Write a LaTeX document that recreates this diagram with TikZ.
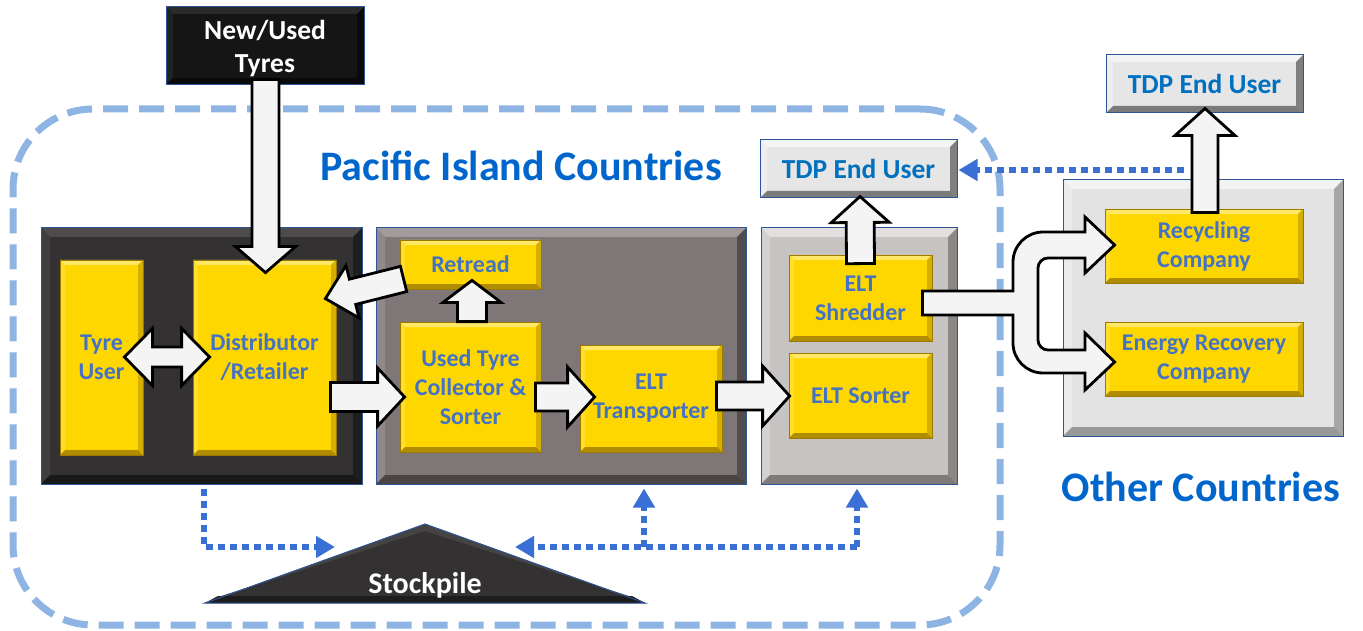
\documentclass[tikz,border=0pt]{standalone}
\usepackage{fontspec}
\setmainfont{Carlito}
\usetikzlibrary{calc,arrows.meta}
\definecolor{ylw}{HTML}{FFD700}
\definecolor{ytop}{HTML}{FFE866}
\definecolor{yleft}{HTML}{FFDE2E}
\definecolor{yright}{HTML}{D4AE00}
\definecolor{ybot}{HTML}{B08D00}
\definecolor{ygold}{HTML}{9C7A00}
\definecolor{ytext}{HTML}{4472C4}
\definecolor{navy}{HTML}{2F5597}
\definecolor{lpc}{HTML}{333131}
\definecolor{lpt}{HTML}{4D4B4B}
\definecolor{lpl}{HTML}{403E3E}
\definecolor{lpr}{HTML}{1F1E1E}
\definecolor{lpb}{HTML}{1A1919}
\definecolor{mpc}{HTML}{7F7777}
\definecolor{mpt}{HTML}{A39B9B}
\definecolor{mpl}{HTML}{918989}
\definecolor{mpr}{HTML}{524C4C}
\definecolor{mpb}{HTML}{4A4444}
\definecolor{rpc}{HTML}{C7C3C3}
\definecolor{rpt}{HTML}{E2DFDF}
\definecolor{rpl}{HTML}{D4D0D0}
\definecolor{rpr}{HTML}{8C8888}
\definecolor{rpb}{HTML}{7F7B7B}
\definecolor{opc}{HTML}{E3E3E3}
\definecolor{opt}{HTML}{F3F3F3}
\definecolor{opl}{HTML}{EBEBEB}
\definecolor{opr}{HTML}{A6A6A6}
\definecolor{opb}{HTML}{999999}
\definecolor{tdc}{HTML}{E6E6E6}
\definecolor{tdt}{HTML}{F4F4F4}
\definecolor{tdl}{HTML}{EEEEEE}
\definecolor{tdr}{HTML}{808080}
\definecolor{tdb}{HTML}{7A7A7A}
\definecolor{nuc}{HTML}{151515}
\definecolor{nut}{HTML}{2B2B2B}
\definecolor{nul}{HTML}{222222}
\definecolor{nur}{HTML}{0A0A0A}
\definecolor{tdptext}{HTML}{0070C0}
\definecolor{titlec}{HTML}{0066CC}
\definecolor{regc}{HTML}{8EB4E3}
\definecolor{dotc}{HTML}{3A70D6}
\definecolor{arrw}{HTML}{F4F4F4}
\definecolor{stkc}{HTML}{333131}
\definecolor{stkd}{HTML}{1E1D1D}
\definecolor{stkt}{HTML}{454343}

\newcommand\barrow[5]{%
  \coordinate (bac) at ($(#2)!#5!(#1)$);
  \draw[blockarr] ($(#1)!#3!90:(#2)$) -- ($(bac)!#3!90:(#2)$) -- ($(bac)!#4!90:(#2)$) -- (#2) -- ($(bac)!#4!-90:(#2)$) -- ($(bac)!#3!-90:(#2)$) -- ($(#1)!#3!-90:(#2)$) -- cycle;}
\newcommand\dbarrow[5]{%
  \coordinate (bca) at ($(#1)!#5!(#2)$);
  \coordinate (bcb) at ($(#2)!#5!(#1)$);
  \draw[blockarr] (#1) -- ($(bca)!#4!90:(#2)$) -- ($(bca)!#3!90:(#2)$) -- ($(bcb)!#3!-90:(#1)$) -- ($(bcb)!#4!-90:(#1)$) -- (#2) -- ($(bcb)!#4!90:(#1)$) -- ($(bcb)!#3!90:(#1)$) -- ($(bca)!#3!-90:(#2)$) -- ($(bca)!#4!-90:(#2)$) -- cycle;}

\tikzset{
 bevel/.style n args={5}{path picture={
   \fill[#1] (path picture bounding box.north west) -- (path picture bounding box.north east) -- ([shift={(-#5,-#5)}]path picture bounding box.north east) -- ([shift={(#5,-#5)}]path picture bounding box.north west) -- cycle;
   \fill[#2] (path picture bounding box.north west) -- ([shift={(#5,-#5)}]path picture bounding box.north west) -- ([shift={(#5,#5)}]path picture bounding box.south west) -- (path picture bounding box.south west) -- cycle;
   \fill[#3] (path picture bounding box.north east) -- ([shift={(-#5,-#5)}]path picture bounding box.north east) -- ([shift={(-#5,#5)}]path picture bounding box.south east) -- (path picture bounding box.south east) -- cycle;
   \fill[#4] (path picture bounding box.south west) -- ([shift={(#5,#5)}]path picture bounding box.south west) -- ([shift={(-#5,#5)}]path picture bounding box.south east) -- (path picture bounding box.south east) -- cycle;
 }},
 ybox/.style={draw=ygold, line width=0.8pt, fill=ylw, bevel={ytop}{yleft}{yright}{ybot}{5pt}, text=ytext, font=\bfseries\fontsize{24}{29}\selectfont, align=center, inner sep=0pt},
 panelbase/.style={draw=navy, line width=1pt, inner sep=0pt},
 lpanel/.style={panelbase, fill=lpc, bevel={lpt}{lpl}{lpr}{lpb}{9pt}},
 mpanel/.style={panelbase, fill=mpc, bevel={mpt}{mpl}{mpr}{mpb}{9pt}},
 rpanel/.style={panelbase, fill=rpc, bevel={rpt}{rpl}{rpr}{rpb}{9pt}},
 opanel/.style={panelbase, fill=opc, bevel={opt}{opl}{opr}{opb}{9pt}},
 tdpbox/.style={panelbase, fill=tdc, bevel={tdt}{tdl}{tdr}{tdb}{7pt}, text=tdptext, font=\bfseries\fontsize{27.5}{33}\selectfont},
 nubox/.style={panelbase, fill=nuc, bevel={nut}{nul}{nur}{nur}{7pt}},
 nutext/.style={text=white, align=center, inner sep=0pt, font=\bfseries\fontsize{27.5}{33}\selectfont},
 titletext/.style={text=titlec, font=\bfseries\fontsize{42}{50}\selectfont},
 blockarr/.style={fill=arrw, draw=black, line width=2.8pt, line join=miter},
 dotarr/.style={draw=dotc, line width=6pt, dash pattern=on 7pt off 5pt, -{Triangle[length=19pt,width=21pt]}},
 region/.style={draw=regc, line width=7pt, dash pattern=on 25pt off 11pt, rounded corners=80pt, inner sep=0pt},
}

\begin{document}
\begin{tikzpicture}[x=1pt,y=-1pt]
\useasboundingbox (0,0) rectangle (1363,631);

% region
\node[region, minimum width=987pt, minimum height=516pt] (reg) at (506.5,367) {};

% titles
\node[titletext] (pict) at (521,166) {Pacific Island Countries};
\node[titletext] (otht) at (1201,487) {Other Countries};

% panels
\node[nubox, minimum width=198pt, minimum height=78pt] (nu) at (265,46) {};
\node[nutext] (nul) at ([yshift=-3pt]nu.center) {New/Used\\Tyres};
\node[lpanel, minimum width=321pt, minimum height=256pt] (lp) at (201.5,356) {};
\node[mpanel, minimum width=370pt, minimum height=256pt] (mp) at (561,356) {};
\node[rpanel, minimum width=196pt, minimum height=256pt] (rp) at (859,356) {};
\node[opanel, minimum width=280pt, minimum height=256pt] (op) at (1203,308) {};
\node[tdpbox, minimum width=197pt, minimum height=58pt] (tdp1) at (858.5,169) {TDP End User};
\node[tdpbox, minimum width=197pt, minimum height=58pt] (tdp2) at (1204.5,84) {TDP End User};

% yellow boxes
\node[ybox, minimum width=83pt, minimum height=195pt] (tu) at (101.5,357.5) {Tyre\\User};
\node[ybox, minimum width=143pt, minimum height=195pt] (dist) at (264.5,357.5) {Distributor\\/Retailer};
\node[ybox, minimum width=141pt, minimum height=49pt] (ret) at (470.5,264.5) {Retread};
\node[ybox, minimum width=141pt, minimum height=130pt] (coll) at (470.5,387) {Used Tyre\\Collector \&\\Sorter};
\node[ybox, minimum width=142pt, minimum height=107pt] (trans) at (651,398.5) {ELT\\Transporter};
\node[ybox, minimum width=143pt, minimum height=86pt] (shred) at (860.5,298) {ELT\\Shredder};
\node[ybox, minimum width=143pt, minimum height=85pt] (sorter) at (860.5,395.5) {ELT Sorter};
\node[ybox, minimum width=198pt, minimum height=74pt] (recy) at (1204,246) {Recycling\\Company};
\node[ybox, minimum width=198pt, minimum height=74pt] (energy) at (1204,359) {Energy Recovery\\Company};

% stockpile
\fill[stkc] (205,603) -- (425,524) -- (645,603) -- cycle;
\fill[stkt] (425,524) -- (645,603) -- (632,597) -- (425,531) -- (218,597) -- (205,603) -- cycle;
\fill[stkd] (218,596) -- (632,596) -- (645,603) -- (205,603) -- cycle;
\draw[navy, line width=1pt, line join=miter] (205,603) -- (425,524) -- (645,603) -- cycle;
\node[text=white, font=\bfseries\fontsize{30}{36}\selectfont, anchor=base] (stock) at (425,593) {Stockpile};

% block arrows
\coordinate (a1s) at ([xshift=0.5pt,yshift=6pt]nu.south);
\coordinate (a1e) at ([xshift=1pt,yshift=-13pt]dist.north);
\barrow{a1s}{a1e}{13.5pt}{30pt}{26pt}

\coordinate (a2s) at ([xshift=4pt,yshift=-14.5pt]ret.west);
\coordinate (a2e) at ([xshift=-11pt,yshift=-39pt]dist.north east);
\barrow{a2s}{a2e}{13pt}{27pt}{28pt}

\coordinate (a3s) at ([xshift=-19pt,yshift=0.5pt]tu.east);
\coordinate (a3e) at ([xshift=17pt,yshift=0.5pt]dist.west);
\dbarrow{a3s}{a3e}{10pt}{28.5pt}{28pt}

\coordinate (a4s) at ([xshift=-6pt,yshift=-39.5pt]dist.east);
\coordinate (a4e) at ([xshift=5pt,yshift=-10pt]coll.west);
\barrow{a4s}{a4e}{14.5pt}{29pt}{27pt}

\coordinate (a5s) at ([xshift=1.5pt]coll.north);
\coordinate (a5e) at ([xshift=1.5pt,yshift=9pt]ret.south);
\barrow{a5s}{a5e}{14.5pt}{29pt}{22pt}

\coordinate (a6s) at ([xshift=-6pt,yshift=-10pt]coll.east);
\coordinate (a6e) at ([xshift=15pt,yshift=1.5pt]trans.west);
\barrow{a6s}{a6e}{14pt}{30pt}{27pt}

\coordinate (a7s) at ([xshift=-6pt,yshift=2.5pt]trans.east);
\coordinate (a7e) at ([xshift=1pt,yshift=-0.5pt]sorter.west);
\barrow{a7s}{a7e}{14pt}{30pt}{27pt}

\coordinate (a8s) at ([yshift=-9pt]shred.north);
\coordinate (a8e) at ([xshift=1.5pt,yshift=2pt]tdp1.south);
\barrow{a8s}{a8e}{14pt}{29pt}{26pt}

\coordinate (a9s) at ([xshift=1pt,yshift=-4pt]recy.north);
\coordinate (a9e) at ([xshift=0.5pt,yshift=5pt]tdp2.south);
\barrow{a9s}{a9e}{13pt}{30pt}{27pt}

% fork arrow
\coordinate (fk) at ([xshift=-10pt,yshift=-5pt]shred.east);
\coordinate (fkr) at ([xshift=10pt,yshift=1pt]recy.west);
\coordinate (fke) at ([xshift=10pt,yshift=-3pt]energy.west);
\draw[blockarr] ($(fk)+(0,-12)$) -- (1013,291) -- (1013,262) .. controls (1013,245.4) and (1026.6,232) .. (1043,232) -- (1085,232) -- (1085,217) -- (fkr) -- (1085,273) -- (1085,258) -- (1048,258) .. controls (1042.5,258) and (1038,262.5) .. (1038,268) -- (1038,340) .. controls (1038,345.5) and (1042.5,350) .. (1048,350) -- (1085,350) -- (1085,333) -- (fke) -- (1085,390) -- (1085,373) -- (1043,373) .. controls (1026.4,373) and (1013,359.6) .. (1013,343) -- (1013,315) -- ($(fk)+(0,12)$) -- cycle;

% dotted connectors
\coordinate (stL) at (335,547);
\coordinate (stR) at (515,547);
\coordinate (lpd) at ([xshift=2.5pt,yshift=-4pt]lp.south);
\coordinate (rpd) at ([xshift=-2pt,yshift=-4pt]rp.south);
\coordinate (mpd) at ([xshift=83pt,yshift=-4pt]mp.south);
\draw[dotarr] (lpd) |- (stL);
\draw[dotarr] (rpd |- stR) -- (stR);
\draw[dotarr] (rpd |- stR) -- (rpd);
\draw[dotarr] (mpd |- stR) -- (mpd);
\coordinate (tdpd) at (1184,170);
\draw[dotarr] (tdpd) -- ([xshift=1pt,yshift=-1pt]tdp1.east);
\end{tikzpicture}
\end{document}
